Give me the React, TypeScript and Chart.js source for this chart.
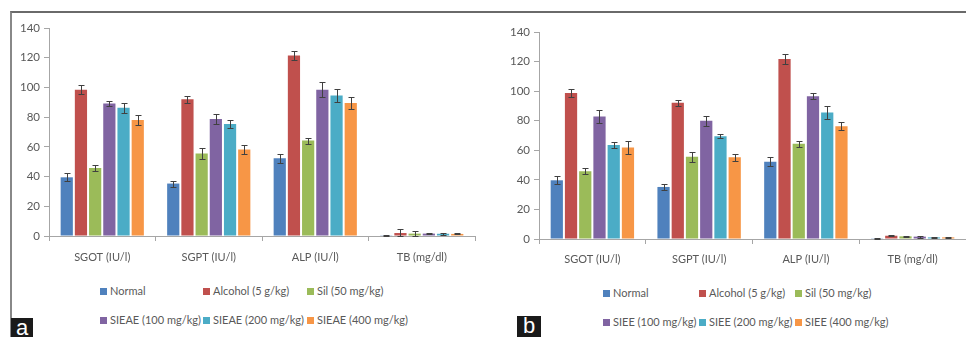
import React, { useEffect, useRef } from 'react';
import { Chart, registerables } from 'chart.js';

Chart.register(...registerables);

// ---------- data ----------
const categories = ['SGOT (IU/l)', 'SGPT (IU/l)', 'ALP (IU/l)', 'TB (mg/dl)'];
const yTicks = [0, 20, 40, 60, 80, 100, 120, 140];

const seriesColors = ['#4F81BD', '#C0504D', '#9BBB59', '#8064A2', '#4BACC6', '#F79646'];

const labelsA = ['Normal', 'Alcohol (5 g/kg)', 'Sil (50 mg/kg)', 'SIEAE (100 mg/kg)', 'SIEAE (200 mg/kg)', 'SIEAE (400 mg/kg)'];
const labelsB = ['Normal', 'Alcohol (5 g/kg)', 'Sil (50 mg/kg)', 'SIEE (100 mg/kg)', 'SIEE (200 mg/kg)', 'SIEE (400 mg/kg)'];

// Panel a values
const normalA = [39.5, 35.3, 52.3, 0.5];
const alcoholA = [98.5, 92, 121.5, 2];
const silA = [45.7, 55.5, 64.2, 1.6];
const s100A = [89.2, 78.7, 98.5, 1.6];
const s200A = [86.3, 75.4, 94.6, 1.5];
const s400A = [78, 58.2, 89.6, 1.4];
// Panel a errors
const normalErrA = [2.8, 2, 3.2, 0.2];
const alcoholErrA = [3, 2.2, 3.3, 2.8];
const silErrA = [2, 3.8, 2, 1.8];
const s100ErrA = [2, 3.5, 5, 0.5];
const s200ErrA = [3.3, 3, 4.2, 0.5];
const s400ErrA = [3.5, 2.8, 3.8, 0.3];

// Panel b values
const normalB = [39.7, 35.2, 52.3, 0.5];
const alcoholB = [98.8, 92.2, 121.8, 2.2];
const silB = [45.8, 55.6, 64.4, 1.8];
const s100B = [82.8, 80, 96.5, 1.6];
const s200B = [63.5, 69.5, 85.5, 1.1];
const s400B = [61.8, 55.3, 76.3, 1.1];
// Panel b errors
const normalErrB = [2.7, 2, 3, 0.2];
const alcoholErrB = [2.8, 2, 3.3, 0.4];
const silErrB = [2, 3.5, 2, 0.4];
const s100ErrB = [4.2, 3.5, 2, 0.7];
const s200ErrB = [2.2, 1.5, 4.3, 0.3];
const s400ErrB = [4.4, 2.5, 2.6, 0.3];

const valuesA = [normalA, alcoholA, silA, s100A, s200A, s400A];
const errorsA = [normalErrA, alcoholErrA, silErrA, s100ErrA, s200ErrA, s400ErrA];
const valuesB = [normalB, alcoholB, silB, s100B, s200B, s400B];
const errorsB = [normalErrB, alcoholErrB, silErrB, s100ErrB, s200ErrB, s400ErrB];

const FONT = 'Lato, "Open Sans", sans-serif';
const TEXT = '#595959';
const AXIS = '#a6a6a6';

const errorBarPlugin = {
  id: 'errorBars',
  afterDatasetsDraw(chart: any, _args: any, opts: any) {
    const errs: number[][] = opts.errors || [];
    const ctx = chart.ctx;
    const y = chart.scales.y;
    ctx.save();
    ctx.strokeStyle = '#404040';
    ctx.lineWidth = 1;
    chart.data.datasets.forEach((ds: any, i: number) => {
      const meta = chart.getDatasetMeta(i);
      meta.data.forEach((bar: any, j: number) => {
        const v = ds.data[j];
        const e = (errs[i] || [])[j] || 0;
        const x = Math.round(bar.x) + 0.5;
        const yt = Math.round(y.getPixelForValue(v + e)) + 0.5;
        const yb = Math.round(y.getPixelForValue(Math.max(0, v - e))) + 0.5;
        ctx.beginPath();
        ctx.moveTo(x, yt);
        ctx.lineTo(x, yb);
        ctx.moveTo(x - 3, yt);
        ctx.lineTo(x + 3, yt);
        ctx.moveTo(x - 3, yb);
        ctx.lineTo(x + 3, yb);
        ctx.stroke();
      });
    });
    ctx.restore();
  },
};

type PanelProps = {
  left: number;
  top: number;
  width: number;
  height: number;
  yWidth: number;
  padTop: number;
  padRight: number;
  xHeight: number;
  xPad: number;
  values: number[][];
  errors: number[][];
  labels: string[];
};

function ChartPanel(p: PanelProps) {
  const ref = useRef<HTMLCanvasElement | null>(null);
  useEffect(() => {
    if (!ref.current) return;
    const chart = new Chart(ref.current, {
      type: 'bar',
      data: {
        labels: categories,
        datasets: p.values.map((vals, i) => ({
          label: p.labels[i],
          data: vals,
          backgroundColor: seriesColors[i],
          borderWidth: 0,
          categoryPercentage: 0.8,
          barPercentage: 0.86,
        })),
      },
      options: {
        animation: false,
        responsive: false,
        devicePixelRatio: 1,
        layout: { padding: { top: p.padTop, right: p.padRight, left: 0, bottom: 0 } },
        plugins: {
          legend: { display: false },
          tooltip: { enabled: false },
          errorBars: { errors: p.errors },
        } as any,
        scales: {
          x: {
            grid: { offset: true, drawOnChartArea: false, drawTicks: true, tickLength: 5, color: AXIS },
            border: { color: AXIS },
            ticks: { color: TEXT, font: { family: FONT, size: 11 }, padding: p.xPad, maxRotation: 0 },
            afterFit: (s: any) => { s.height = p.xHeight; },
          },
          y: {
            min: 0,
            max: 140,
            afterBuildTicks: (s: any) => { s.ticks = yTicks.map((v) => ({ value: v })); },
            grid: { drawOnChartArea: false, drawTicks: true, tickLength: 5, color: AXIS },
            border: { color: AXIS },
            ticks: { color: TEXT, font: { family: FONT, size: 11.5 }, padding: 4 },
            afterFit: (s: any) => { s.width = p.yWidth; },
          },
        },
      },
      plugins: [errorBarPlugin],
    } as any);
    return () => chart.destroy();
  }, []);
  return (
    <canvas
      ref={ref}
      width={p.width}
      height={p.height}
      style={{ position: 'absolute', left: p.left, top: p.top, width: p.width, height: p.height }}
    />
  );
}

function Legend({ labels, cols, rows, textOffset }: { labels: string[]; cols: number[]; rows: number[]; textOffset: number }) {
  return (
    <>
      {labels.map((lab, i) => {
        const x = cols[i % 3];
        const y = rows[Math.floor(i / 3)];
        return (
          <div key={i} style={{ position: 'absolute', left: x, top: y - 8, height: 16, whiteSpace: 'nowrap' }}>
            <span style={{ position: 'absolute', left: 0, top: 5, width: 7, height: 7, background: seriesColors[i] }} />
            <span
              style={{
                position: 'absolute',
                left: textOffset,
                top: 0,
                lineHeight: '16px',
                fontFamily: FONT,
                fontSize: 11,
                color: TEXT,
              }}
            >
              {lab}
            </span>
          </div>
        );
      })}
    </>
  );
}

function Tag({ left, top, w, text }: { left: number; top: number; w: number; text: string }) {
  return (
    <div
      style={{
        position: 'absolute',
        left,
        top,
        width: w,
        height: 337 - top,
        background: '#1a1a1a',
        color: '#fff',
        fontFamily: '"Liberation Sans", Arial, sans-serif',
        fontSize: 22,
        lineHeight: '20px',
        textAlign: 'center',
      }}
    >
      {text}
    </div>
  );
}

export default function App() {
  return (
    <div style={{ position: 'absolute', left: 0, top: 0, width: 966, height: 337, background: '#fff', overflow: 'hidden' }}>
      <div
        style={{
          position: 'absolute',
          left: 10,
          top: 11,
          width: 960,
          height: 330,
          borderTop: '2px solid #6a6a6a',
          borderLeft: '2px solid #888',
          boxSizing: 'border-box',
        }}
      />
      <ChartPanel
        left={11}
        top={13}
        width={472}
        height={265}
        yWidth={38}
        padTop={15}
        padRight={8}
        xHeight={42}
        xPad={10}
        values={valuesA}
        errors={errorsA}
        labels={labelsA}
      />
      <ChartPanel
        left={483}
        top={13}
        width={483}
        height={265}
        yWidth={56}
        padTop={19}
        padRight={0}
        xHeight={39}
        xPad={9}
        values={valuesB}
        errors={errorsB}
        labels={labelsB}
      />
      <Legend labels={labelsA} cols={[100, 203, 307]} rows={[291, 320]} textOffset={10} />
      <Legend labels={labelsB} cols={[603, 699, 795]} rows={[293, 322]} textOffset={10} />
      <Tag left={11} top={318} w={22} text="a" />
      <Tag left={517} top={316} w={24} text="b" />
    </div>
  );
}
